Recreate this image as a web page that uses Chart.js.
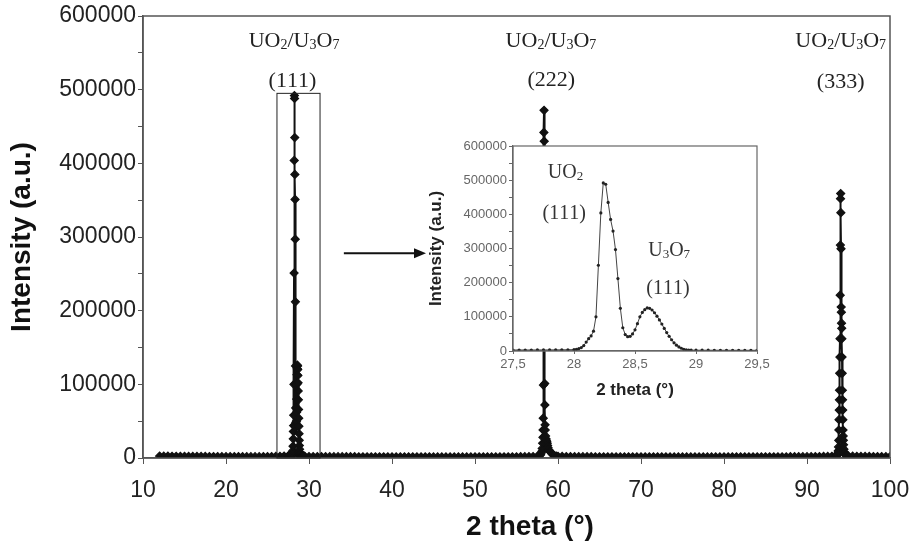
<!DOCTYPE html>
<html>
<head>
<meta charset="utf-8">
<title>XRD UO2 / U3O7</title>
<script src="https://cdn.jsdelivr.net/npm/chart.js@4.4.1/dist/chart.umd.min.js"></script>
<style>
    html, body { margin: 0; padding: 0; background: #fff; }
    #wrap { position: relative; width: 916px; height: 544px; }
    #mainBox { position: absolute; left: 0; top: 0; width: 916px; height: 544px; }
    #insetBox { position: absolute; left: 420px; top: 130px; width: 351px; height: 275px; }
</style>
</head>
<body>
<div id="wrap">
    <div id="mainBox"><canvas id="mainChart"></canvas></div>
    <div id="insetBox"><canvas id="insetChart"></canvas></div>
</div>
<script>
// 2 theta (deg) / intensity (a.u.)

// background 12 - 27
var lowX = [12, 12.5, 13, 13.5, 14, 14.5, 15, 15.5, 16, 16.5,
    17, 17.5, 18, 18.5, 19, 19.5, 20, 20.5, 21, 21.5,
    22, 22.5, 23, 23.5, 24, 24.5, 25, 25.5, 26, 26.5,
    27];
var lowY = [2600, 2500, 2450, 2400, 2350, 2300, 2250, 2200, 2200, 2150,
    2100, 2100, 2050, 2000, 2000, 1950, 1950, 1900, 1900, 1900,
    1850, 1850, 1850, 1800, 1850, 1900, 1950, 2000, 2100, 2300,
    2700];

// (111) UO2 + U3O7 region, also the inset
var insetX = [27.5, 27.55, 27.6, 27.65, 27.7, 27.75, 27.8, 27.85, 27.9, 27.95,
    28, 28.02, 28.04, 28.06, 28.08, 28.1, 28.12, 28.14, 28.16, 28.18,
    28.2, 28.22, 28.24, 28.26, 28.28, 28.3, 28.32, 28.34, 28.36, 28.38,
    28.4, 28.42, 28.44, 28.46, 28.48, 28.5, 28.52, 28.54, 28.56, 28.58,
    28.6, 28.62, 28.64, 28.66, 28.68, 28.7, 28.72, 28.74, 28.76, 28.78,
    28.8, 28.82, 28.84, 28.86, 28.88, 28.9, 28.92, 28.94, 28.96, 29,
    29.05, 29.1, 29.15, 29.2, 29.25, 29.3, 29.35, 29.4, 29.45, 29.5];
var insetY = [2900, 2950, 3000, 3000, 3050, 3100, 3200, 3300, 3500, 3700,
    4000, 5000, 7000, 10000, 16000, 26000, 36000, 44000, 58000, 100000,
    251000, 404000, 492000, 488000, 435000, 385000, 351000, 297000, 212000, 125000,
    68000, 48000, 42000, 43000, 50000, 62000, 80000, 100000, 113000, 121000,
    126000, 125000, 120000, 112000, 102000, 91000, 79000, 66000, 54000, 43000,
    33000, 24000, 17000, 12000, 8000, 5000, 3500, 2800, 2500, 2400,
    2300, 2300, 2250, 2200, 2200, 2150, 2150, 2100, 2100, 2100];

// background 30 - 57.5
var midX = [30, 30.5, 31, 31.5, 32, 32.5, 33, 33.5, 34, 34.5,
    35, 35.5, 36, 36.5, 37, 37.5, 38, 38.5, 39, 39.5,
    40, 40.5, 41, 41.5, 42, 42.5, 43, 43.5, 44, 44.5,
    45, 45.5, 46, 46.5, 47, 47.5, 48, 48.5, 49, 49.5,
    50, 50.5, 51, 51.5, 52, 52.5, 53, 53.5, 54, 54.5,
    55, 55.5, 56, 56.5, 57, 57.5];
var midY = [2000, 1950, 1900, 1900, 1850, 1850, 1800, 1800, 1800, 1750,
    1750, 1750, 1700, 1700, 1700, 1700, 1650, 1650, 1650, 1650,
    1600, 1600, 1600, 1600, 1600, 1550, 1550, 1550, 1550, 1550,
    1500, 1500, 1500, 1500, 1500, 1500, 1500, 1500, 1500, 1500,
    1550, 1550, 1550, 1550, 1600, 1600, 1600, 1650, 1650, 1700,
    1700, 1750, 1800, 1900, 2000, 2200];

// (222)
var peak2X = [57.6, 57.7, 57.8, 57.9, 58, 58.05, 58.1, 58.15, 58.18, 58.2,
    58.22, 58.24, 58.26, 58.28, 58.3, 58.32, 58.34, 58.36, 58.38, 58.4,
    58.42, 58.44, 58.46, 58.5, 58.55, 58.6, 58.65, 58.7, 58.75, 58.8,
    58.9, 59, 59.1, 59.2, 59.3, 59.4, 59.5, 59.6, 59.8];
var peak2Y = [2400, 2800, 3500, 4500, 7000, 9000, 13000, 20000, 28000, 38000,
    54000, 99000, 200000, 330000, 442000, 472000, 430000, 300000, 170000, 101000,
    72000, 45000, 38000, 30000, 26000, 24000, 22000, 20000, 17000, 14000,
    11000, 9000, 8000, 7000, 5500, 4500, 3500, 3000, 2500];

// background 60 - 93.5
var highX = [60, 60.5, 61, 61.5, 62, 62.5, 63, 63.5, 64, 64.5,
    65, 65.5, 66, 66.5, 67, 67.5, 68, 68.5, 69, 69.5,
    70, 70.5, 71, 71.5, 72, 72.5, 73, 73.5, 74, 74.5,
    75, 75.5, 76, 76.5, 77, 77.5, 78, 78.5, 79, 79.5,
    80, 80.5, 81, 81.5, 82, 82.5, 83, 83.5, 84, 84.5,
    85, 85.5, 86, 86.5, 87, 87.5, 88, 88.5, 89, 89.5,
    90, 90.5, 91, 91.5, 92, 92.5, 93, 93.5];
var highY = [2300, 2100, 2000, 1900, 1850, 1800, 1800, 1750, 1750, 1700,
    1700, 1700, 1650, 1650, 1650, 1600, 1600, 1600, 1600, 1600,
    1550, 1550, 1550, 1550, 1550, 1550, 1550, 1500, 1500, 1500,
    1500, 1500, 1500, 1500, 1500, 1500, 1500, 1500, 1500, 1500,
    1550, 1550, 1550, 1550, 1550, 1600, 1600, 1600, 1600, 1600,
    1650, 1650, 1650, 1700, 1700, 1700, 1750, 1750, 1800, 1800,
    1850, 1900, 1950, 2000, 2100, 2200, 2400, 2700];

// (333)
var peak3X = [93.6, 93.65, 93.7, 93.75, 93.78, 93.8, 93.82, 93.84, 93.86, 93.88,
    93.9, 93.92, 93.94, 93.96, 93.98, 94, 94.02, 94.04, 94.06, 94.08,
    94.1, 94.12, 94.14, 94.16, 94.18, 94.2, 94.22, 94.24, 94.26, 94.28,
    94.3, 94.32, 94.34, 94.36, 94.38, 94.4, 94.45, 94.5, 94.55, 94.6,
    94.7, 94.8, 94.9];
var peak3Y = [3200, 4000, 5500, 8000, 10000, 15000, 24000, 38000, 52000, 65000,
    79000, 92000, 115000, 137000, 162000, 221000, 289000, 352000, 359000, 333000,
    284000, 205000, 198000, 183000, 176000, 162000, 137000, 115000, 92000, 79000,
    65000, 52000, 38000, 30000, 24000, 18000, 12000, 8000, 6000, 4500,
    3500, 3000, 2800];

var endX = [95, 95.5, 96, 96.5, 97, 97.5, 98, 98.5, 99, 99.5, 100];
var endY = [2700, 2500, 2300, 2200, 2100, 2100, 2000, 2000, 2000, 1950, 1950];

// peak labels [2theta, intensity of text baseline, text]
var peakLabels = [
    [28.2, 558000, "UO_2/U_3O_7"], [28.0, 503000, "(111)"],
    [59.15, 558000, "UO_2/U_3O_7"], [59.2, 505000, "(222)"],
    [94.06, 558000, "UO_2/U_3O_7"], [94.06, 502000, "(333)"]
];
var insetLabels = [
    [27.93, 506000, "UO_2"], [27.92, 386000, "(111)"],
    [28.78, 278000, "U_3O_7"], [28.77, 167000, "(111)"]
];
// zoom box and arrow, in data units
var zoomBoxX = [26.14, 31.33];
var zoomBoxTop = 495000;
var arrowX = [34.2, 44.1];
var arrowY = 278000;

var serif = "'Liberation Serif', 'Times New Roman', serif";
Chart.defaults.font.family = "'Liberation Sans', Arial, Helvetica, sans-serif";

function toPoints(xs, ys) {
    return xs.map((x, i) => ({ x: x, y: ys[i] }));
}

function noOverhang(s) {
    // keep the plot box where layout.padding puts it
    s.paddingLeft = 0; s.paddingRight = 0; s.paddingTop = 0; s.paddingBottom = 0;
}

function drawChem(ctx, text, cx, baseY, size) {
    // "_3" => subscript 3
    let parts = [];
    for (let i = 0; i < text.length; i++) {
        if (text[i] == "_") { parts.push({ t: text[i + 1], sub: true }); i++; }
        else parts.push({ t: text[i], sub: false });
    }
    let big = `${size}px ${serif}`;
    let small = `${Math.round(size * 0.64)}px ${serif}`;
    let w = 0;
    parts.forEach(p => { ctx.font = p.sub ? small : big; p.w = ctx.measureText(p.t).width; w += p.w; });
    let x = cx - w / 2;
    ctx.textAlign = "left";
    ctx.textBaseline = "alphabetic";
    parts.forEach(p => {
        ctx.font = p.sub ? small : big;
        ctx.fillText(p.t, x, p.sub ? baseY + size * 0.1 : baseY);
        x += p.w;
    });
}

var mainDecor = {
    id: "mainDecor",
    afterDraw(chart) {
        const { ctx, chartArea: a, scales: { x, y } } = chart;
        ctx.save();
        ctx.strokeStyle = "#555";
        ctx.lineWidth = 1.5;
        ctx.strokeRect(a.left, a.top, a.right - a.left, a.bottom - a.top);

        // box round the (111) peak
        ctx.strokeStyle = "#222";
        ctx.lineWidth = 1;
        let bx0 = x.getPixelForValue(zoomBoxX[0]), bx1 = x.getPixelForValue(zoomBoxX[1]);
        let by0 = y.getPixelForValue(zoomBoxTop), by1 = y.getPixelForValue(0);
        ctx.strokeRect(bx0, by0, bx1 - bx0, by1 - by0);

        // arrow to the inset
        let ax0 = x.getPixelForValue(arrowX[0]), ax1 = x.getPixelForValue(arrowX[1]);
        let ay = y.getPixelForValue(arrowY);
        ctx.strokeStyle = "#111";
        ctx.lineWidth = 2;
        ctx.beginPath();
        ctx.moveTo(ax0, ay);
        ctx.lineTo(ax1 - 10, ay);
        ctx.stroke();
        ctx.fillStyle = "#111";
        ctx.beginPath();
        ctx.moveTo(ax1, ay);
        ctx.lineTo(ax1 - 12, ay - 5);
        ctx.lineTo(ax1 - 12, ay + 5);
        ctx.closePath();
        ctx.fill();

        ctx.fillStyle = "#222";
        peakLabels.forEach(l => drawChem(ctx, l[2], x.getPixelForValue(l[0]), y.getPixelForValue(l[1]), 22));

        // x title
        ctx.fillStyle = "#111";
        ctx.font = "bold 28px 'Liberation Sans', Arial, sans-serif";
        ctx.textAlign = "center";
        ctx.textBaseline = "middle";
        ctx.fillText("2 theta (°)", 530, 527);
        ctx.restore();
    }
};

var insetDecor = {
    id: "insetDecor",
    beforeDraw(chart) {
        const { ctx, chartArea: a } = chart;
        ctx.save();
        ctx.fillStyle = "#fff";
        ctx.fillRect(a.left, a.top, a.right - a.left, a.bottom - a.top);
        ctx.restore();
    },
    afterDraw(chart) {
        const { ctx, chartArea: a, scales: { x, y } } = chart;
        ctx.save();
        ctx.strokeStyle = "#666";
        ctx.lineWidth = 1.2;
        ctx.strokeRect(a.left, a.top, a.right - a.left, a.bottom - a.top);
        ctx.fillStyle = "#333";
        insetLabels.forEach(l => drawChem(ctx, l[2], x.getPixelForValue(l[0]), y.getPixelForValue(l[1]), 20));
        ctx.restore();
    }
};

window.onload = () => {
    var mainData = [].concat(
        toPoints(lowX, lowY), toPoints(insetX, insetY), toPoints(midX, midY),
        toPoints(peak2X, peak2Y), toPoints(highX, highY), toPoints(peak3X, peak3Y),
        toPoints(endX, endY));

    new Chart(document.getElementById("mainChart"), {
        type: "line",
        data: {
            datasets: [{
                data: mainData,
                borderColor: "#111",
                borderWidth: 2,
                pointStyle: "rectRot",
                pointRadius: 4,
                pointBackgroundColor: "#111",
                pointBorderColor: "#111",
                pointBorderWidth: 1.2,
                tension: 0
            }]
        },
        options: {
            responsive: true,
            maintainAspectRatio: false,
            animation: false,
            events: [],
            layout: { padding: { left: 0, top: 16, right: 26, bottom: 0 } },
            plugins: { legend: { display: false }, tooltip: { enabled: false } },
            scales: {
                x: {
                    type: "linear",
                    min: 10,
                    max: 100,
                    ticks: { stepSize: 10, color: "#222", font: { size: 23 }, padding: 13, maxRotation: 0 },
                    grid: { drawOnChartArea: false, tickLength: 6, color: "#555" },
                    border: { color: "#555", width: 1.5 },
                    afterFit: (s) => { s.height = 86; noOverhang(s); }
                },
                y: {
                    min: 0,
                    max: 600000,
                    ticks: {
                        stepSize: 50000, autoSkip: false, color: "#222", font: { size: 23 }, padding: 2,
                        callback: (v) => v % 100000 == 0 ? String(v) : ""
                    },
                    grid: { drawOnChartArea: false, tickLength: 5, color: "#555" },
                    border: { color: "#555", width: 1.5 },
                    title: {
                        display: true, text: "Intensity (a.u.)", color: "#111",
                        font: { size: 28, weight: "bold" }, padding: { top: 5, bottom: 0 }
                    },
                    afterFit: (s) => { s.width = 143; noOverhang(s); }
                }
            }
        },
        plugins: [mainDecor]
    });

    new Chart(document.getElementById("insetChart"), {
        type: "line",
        data: {
            datasets: [{
                data: toPoints(insetX, insetY),
                borderColor: "#444",
                borderWidth: 1,
                pointStyle: "circle",
                pointRadius: 1.6,
                pointBackgroundColor: "#222",
                pointBorderColor: "#222",
                pointBorderWidth: 0,
                tension: 0
            }]
        },
        options: {
            responsive: true,
            maintainAspectRatio: false,
            animation: false,
            events: [],
            layout: { padding: { left: 0, top: 16, right: 14, bottom: 0 } },
            plugins: { legend: { display: false }, tooltip: { enabled: false } },
            scales: {
                x: {
                    type: "linear",
                    min: 27.5,
                    max: 29.5,
                    ticks: {
                        stepSize: 0.5, color: "#666", font: { size: 13 }, padding: 3, maxRotation: 0,
                        callback: (v) => String(v).replace(".", ",")
                    },
                    grid: { drawOnChartArea: false, tickLength: 3, color: "#666" },
                    border: { color: "#666", width: 1.2 },
                    title: {
                        display: true, text: "2 theta (°)", color: "#222",
                        font: { size: 17, weight: "bold" }, padding: { top: 0, bottom: 4 }
                    },
                    afterFit: (s) => { s.height = 54; noOverhang(s); }
                },
                y: {
                    min: 0,
                    max: 600000,
                    ticks: {
                        stepSize: 50000, autoSkip: false, color: "#666", font: { size: 13 }, padding: 2,
                        callback: (v) => v % 100000 == 0 ? String(v) : ""
                    },
                    grid: { drawOnChartArea: false, tickLength: 4, color: "#666" },
                    border: { color: "#666", width: 1.2 },
                    title: {
                        display: true, text: "Intensity (a.u.)", color: "#222",
                        font: { size: 17, weight: "bold" }, padding: { top: 6, bottom: 0 }
                    },
                    afterFit: (s) => { s.width = 93; noOverhang(s); }
                }
            }
        },
        plugins: [insetDecor]
    });
};
</script>
</body>
</html>
